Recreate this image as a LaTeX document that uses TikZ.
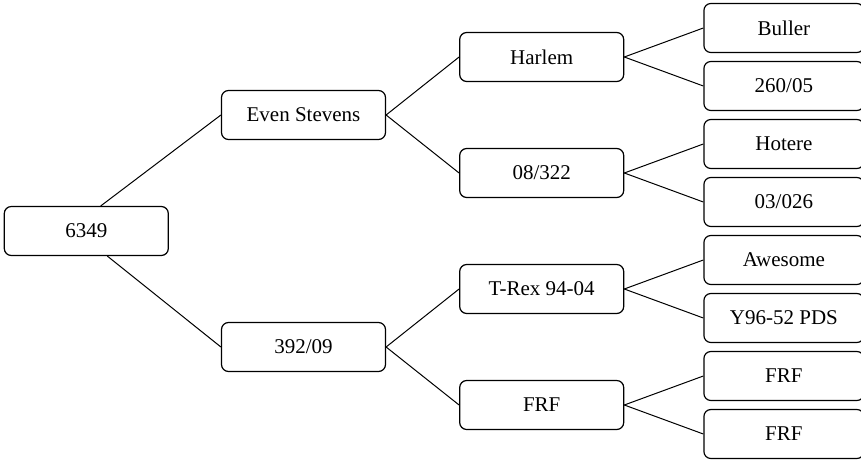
\documentclass[tikz,border=0pt]{standalone}
\usepackage{fontspec}
\setmainfont{Liberation Serif}
\usetikzlibrary{positioning}

\begin{document}
\begin{tikzpicture}[every node/.style={font=\fontsize{10.5}{12.6}\selectfont, align=center},
  box/.style={draw, line width=0.6pt, rounded corners=3.5pt, minimum width=82pt, minimum height=24.5pt},
  leaf/.style={box, minimum width=80pt},
  link/.style={line width=0.5pt}]
\useasboundingbox (0,0) rectangle (430.5pt,-230pt);

\node[box] at (43.15pt,-115.5pt) (root) {6349};

% second level
\node[box, right=26pt of root, yshift=58pt] (even) {Even Stevens};
\node[box, right=26pt of root, yshift=-58pt] (n392) {392/09};
\draw[link] (root.60) -- (even.west);
\draw[link] (root.-50) -- (n392.west);

% third level
\node[box, right=36.5pt of even, yshift=29pt] (harlem) {Harlem};
\node[box, right=36.5pt of even, yshift=-29pt] (n08) {08/322};
\node[box, right=36.5pt of n392, yshift=29pt] (trex) {T-Rex 94-04};
\node[box, right=36.5pt of n392, yshift=-29pt] (frf) {FRF};
\draw[link] (even.east) -- (harlem.west);
\draw[link] (even.east) -- (n08.west);
\draw[link] (n392.east) -- (trex.west);
\draw[link] (n392.east) -- (frf.west);

% leaves
\node[leaf, right=39.5pt of harlem, yshift=14.5pt] (buller) {Buller};
\node[leaf, right=39.5pt of harlem, yshift=-14.5pt] (n260) {260/05};
\node[leaf, right=39.5pt of n08, yshift=14.5pt] (hotere) {Hotere};
\node[leaf, right=39.5pt of n08, yshift=-14.5pt] (n03) {03/026};
\node[leaf, right=39.5pt of trex, yshift=14.5pt] (awesome) {Awesome};
\node[leaf, right=39.5pt of trex, yshift=-14.5pt] (y96) {Y96-52 PDS};
\node[leaf, right=39.5pt of frf, yshift=14.5pt] (frfa) {FRF};
\node[leaf, right=39.5pt of frf, yshift=-14.5pt] (frfb) {FRF};
\draw[link] (harlem.east) -- (buller.west);
\draw[link] (harlem.east) -- (n260.west);
\draw[link] (n08.east) -- (hotere.west);
\draw[link] (n08.east) -- (n03.west);
\draw[link] (trex.east) -- (awesome.west);
\draw[link] (trex.east) -- (y96.west);
\draw[link] (frf.east) -- (frfa.west);
\draw[link] (frf.east) -- (frfb.west);
\end{tikzpicture}
\end{document}
